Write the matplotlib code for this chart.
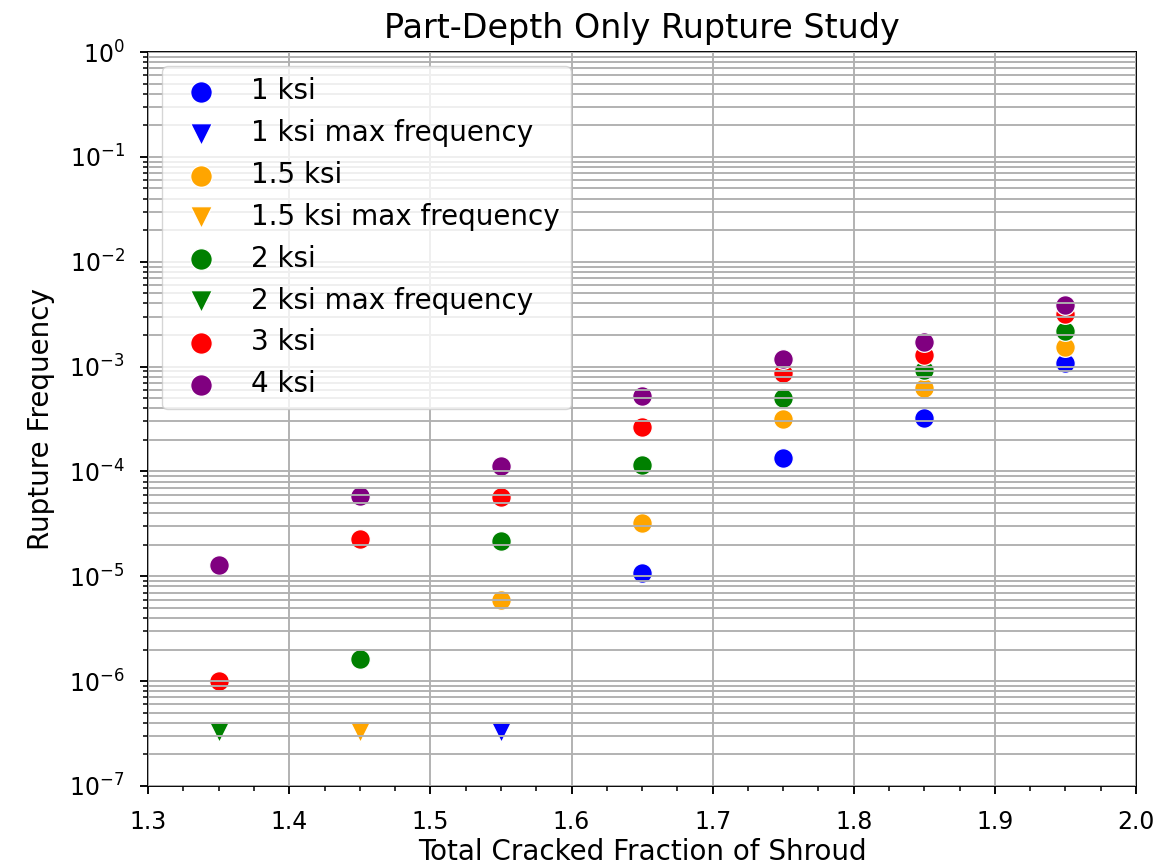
import matplotlib
matplotlib.use('Agg')
import matplotlib.pyplot as plt
from matplotlib.ticker import MultipleLocator
import numpy as np

# Total cracked fraction of shroud (x positions)
fractions = [1.35, 1.45, 1.55, 1.65, 1.75, 1.85, 1.95]

# Rupture frequency by stress level
ksi1_x = [1.65, 1.75, 1.85, 1.95]
ksi1_y = [1.07e-5, 1.35e-4, 3.27e-4, 1.09e-3]
ksi1_max_x = [1.55]
ksi1_max_y = [3.3e-7]

ksi15_x = [1.55, 1.65, 1.75, 1.85, 1.95]
ksi15_y = [6.0e-6, 3.2e-5, 3.13e-4, 6.3e-4, 1.55e-3]
ksi15_max_x = [1.45]
ksi15_max_y = [3.3e-7]

ksi2_x = [1.45, 1.55, 1.65, 1.75, 1.85, 1.95]
ksi2_y = [1.62e-6, 2.16e-5, 1.14e-4, 5.06e-4, 9.2e-4, 2.2e-3]
ksi2_max_x = [1.35]
ksi2_max_y = [3.3e-7]

ksi3_x = fractions
ksi3_y = [1.0e-6, 2.25e-5, 5.66e-5, 2.63e-4, 8.6e-4, 1.30e-3, 3.2e-3]

ksi4_x = fractions
ksi4_y = [1.27e-5, 5.8e-5, 1.12e-4, 5.3e-4, 1.19e-3, 1.73e-3, 3.9e-3]

fig, ax = plt.subplots(figsize=(11.76, 8.68), dpi=100)
fig.subplots_adjust(left=0.126, right=0.966, bottom=0.0945, top=0.940)

kw = dict(s=200, edgecolors='white', linewidths=0.9)
ax.scatter(ksi1_x, ksi1_y, color='blue', marker='o', label='1 ksi', **kw)
ax.scatter(ksi1_max_x, ksi1_max_y, color='blue', marker='v', label='1 ksi max frequency', **kw)
ax.scatter(ksi15_x, ksi15_y, color='orange', marker='o', label='1.5 ksi', **kw)
ax.scatter(ksi15_max_x, ksi15_max_y, color='orange', marker='v', label='1.5 ksi max frequency', **kw)
ax.scatter(ksi2_x, ksi2_y, color='green', marker='o', label='2 ksi', **kw)
ax.scatter(ksi2_max_x, ksi2_max_y, color='green', marker='v', label='2 ksi max frequency', **kw)
ax.scatter(ksi3_x, ksi3_y, color='red', marker='o', label='3 ksi', **kw)
ax.scatter(ksi4_x, ksi4_y, color='purple', marker='o', label='4 ksi', **kw)

ax.set_yscale('log')
ax.set_xlim(1.3, 2.0)
ax.set_ylim(1e-7, 1)
ax.set_xticks(np.arange(1.3, 2.01, 0.1))
ax.set_xticklabels([f'{v:.1f}' for v in np.arange(1.3, 2.01, 0.1)])
ax.xaxis.set_minor_locator(MultipleLocator(0.025))

ax.set_axisbelow(False)
ax.yaxis.grid(True, which='both', color='#b0b0b0', linewidth=1.36)
ax.xaxis.grid(True, which='major', color='#b0b0b0', linewidth=1.36)

for side in ax.spines.values():
    side.set_linewidth(1.36)
ax.tick_params(which='major', labelsize=17, length=6, width=1.36, pad=11)
ax.tick_params(which='minor', length=3.4, width=1.1)
ax.set_xlabel('Total Cracked Fraction of Shroud', fontsize=20, labelpad=3)
ax.set_ylabel('Rupture Frequency', fontsize=20, labelpad=10)
ax.set_title('Part-Depth Only Rupture Study', fontsize=24, pad=10)

ax.legend(loc='upper left', fontsize=20, scatterpoints=1, markerscale=1.1)

plt.savefig('out.png', dpi=100)
